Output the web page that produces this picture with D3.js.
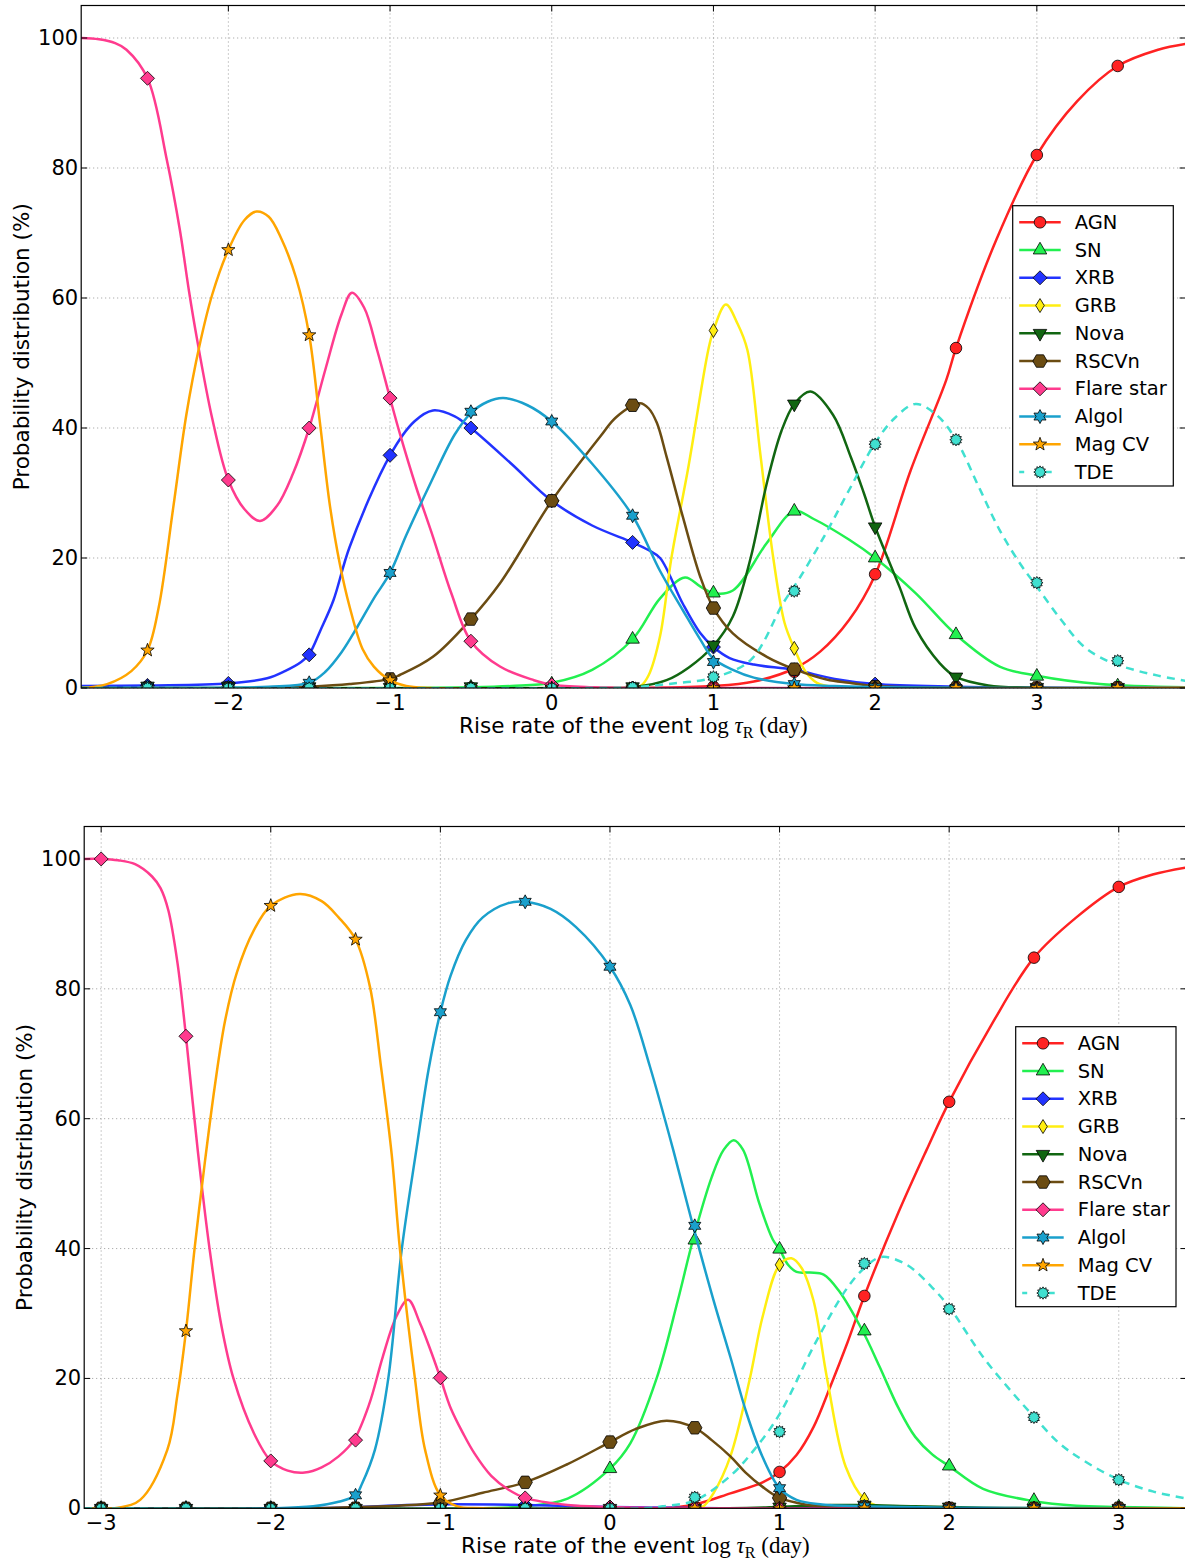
<!DOCTYPE html>
<html>
<head>
<meta charset="utf-8">
<script src="https://cdn.jsdelivr.net/npm/d3@7"></script>
<style>
  body { margin: 0; background: #fff; }
  svg { display: block; }
  text { font-family: "DejaVu Sans", sans-serif; fill: #000; }
</style>
</head>
<body>
<svg id="chart" width="1185" height="1562"></svg>
<script>
// ---- shared categories / ticks ----
const classNames = ["AGN", "SN", "XRB", "GRB", "Nova", "RSCVn", "Flare star", "Algol", "Mag CV", "TDE"];
const classColors = ["#ff2222", "#22f050", "#2233ff", "#ffee11", "#116611", "#6b4c12", "#ff3b8e", "#1aa0cc", "#ffa500", "#40e0d0"];
const classMarkers = ["circle", "triUp", "diamond", "thinDiamond", "triDown", "hexagon", "diamond", "star6", "star5", "sun"];

const yTicks = [0, 20, 40, 60, 80, 100];
const xTicksTop = [-2, -1, 0, 1, 2, 3];
const xTicksBot = [-3, -2, -1, 0, 1, 2, 3];
const topMarkX = [-2.5, -2, -1.5, -1, -0.5, 0, 0.5, 1, 1.5, 2, 2.5, 3, 3.5];
const botMarkX = [-3, -2.5, -2, -1.5, -1, -0.5, 0, 0.5, 1, 1.5, 2, 2.5, 3];

// ---- top panel: curves [logtau, %] ----
const agnTop = [[-2.91,0],[0.5,0],[1.0,0.3],[1.25,1],[1.5,3],[1.66,5.6],[1.84,10.5],[2,17.4],[2.22,33.5],[2.44,47.4],[2.5,52.3],[2.75,69],[3,82],[3.25,90.3],[3.5,95.7],[3.75,98.2],[3.92,99.1]];
const snTop = [[-2.91,0],[-1,0],[-0.5,0.1],[-0.25,0.3],[0,0.8],[0.25,2.8],[0.5,7.5],[0.67,13.8],[0.824,17],[0.92,15.6],[1.0,14.6],[1.12,15],[1.33,22.3],[1.5,27.2],[1.62,26],[1.84,22.8],[2,20],[2.25,14.6],[2.5,8.2],[2.77,3.3],[3,1.9],[3.39,0.6],[3.92,0.1]];
const xrbTop = [[-2.91,0.3],[-2.5,0.4],[-2,0.7],[-1.76,1.5],[-1.65,2.6],[-1.55,4.0],[-1.5,5.2],[-1.43,8.9],[-1.35,13.5],[-1.25,21.7],[-1.0,35.8],[-0.85,41],[-0.735,42.7],[-0.6,41.8],[-0.5,40],[-0.25,34.5],[0,28.8],[0.25,25],[0.5,22.4],[0.6,21.2],[0.67,20],[0.81,13],[0.917,8.5],[1.0,6.3],[1.1,4.6],[1.25,3.6],[1.5,2.8],[1.75,1.4],[2,0.6],[2.5,0.2],[3,0.05],[3.92,0]];
const grbTop = [[-2.91,0],[0.5,0],[0.55,0.3],[0.6,2],[0.67,8],[0.74,20],[0.845,34],[0.968,52],[1.0,55],[1.077,59],[1.15,56],[1.21,52],[1.29,36],[1.37,20],[1.44,10],[1.5,6.1],[1.57,2.5],[1.64,0.8],[1.75,0.1],[1.85,0],[3.92,0]];
const novaTop = [[-2.91,0],[0.4,0],[0.5,0.1],[0.71,1.2],[0.85,3.2],[1.0,6.5],[1.12,11],[1.23,20],[1.33,31.5],[1.42,39.5],[1.5,43.7],[1.6,45.6],[1.74,42],[1.85,35.5],[1.93,30],[2.0,24.8],[2.15,15.6],[2.25,9.2],[2.4,3.8],[2.5,1.7],[2.7,0.4],[3,0.05],[3.92,0]];
const rscTop = [[-2.91,0],[-1.75,0],[-1.5,0.2],[-1.25,0.6],[-1.0,1.4],[-0.94,2],[-0.735,4.8],[-0.5,10.6],[-0.32,16.1],[0,28.8],[0.3,38.7],[0.4,41.7],[0.546,43.8],[0.6,43],[0.65,40.8],[0.71,35.6],[0.81,26.4],[0.92,17],[1.0,12.3],[1.12,8.4],[1.33,4.8],[1.5,2.9],[1.7,1.3],[1.84,0.8],[2,0.3],[2.5,0.05],[3.92,0]];
const flareTop = [[-2.91,100],[-2.8,99.8],[-2.7,99.2],[-2.63,98.2],[-2.5,93.8],[-2.38,81.2],[-2.3,70.5],[-2.243,61],[-2.196,54],[-2.1,41.5],[-2.0,32],[-1.9,27.5],[-1.804,25.7],[-1.7,28],[-1.6,33],[-1.5,40],[-1.4,49],[-1.3,57.5],[-1.236,60.8],[-1.16,58.5],[-1.08,52],[-1.0,44.6],[-0.94,39.2],[-0.84,31],[-0.735,23.3],[-0.62,14.5],[-0.5,7.2],[-0.32,3.3],[-0.11,1.2],[0,0.5],[0.25,0.1],[0.5,0],[3.92,0]];
const algolTop = [[-2.91,0],[-2,0.05],[-1.75,0.2],[-1.5,0.8],[-1.4,2.5],[-1.3,5.5],[-1.2,9.5],[-1.1,13.8],[-1.0,17.7],[-0.9,23.5],[-0.75,31.5],[-0.6,39],[-0.5,42.3],[-0.4,44],[-0.3,44.6],[-0.15,43.5],[0,41],[0.25,34.5],[0.5,26.5],[0.67,18],[0.81,12],[0.92,7.4],[1.0,4.5],[1.12,2.8],[1.25,1.6],[1.5,0.6],[1.75,0.3],[2,0.1],[3.92,0]];
const magTop = [[-2.91,0],[-2.75,0.6],[-2.6,2.6],[-2.5,5.8],[-2.43,12.5],[-2.34,27.9],[-2.26,42],[-2.18,52.5],[-2.1,60.5],[-2.0,67.4],[-1.9,72],[-1.826,73.3],[-1.75,72.5],[-1.67,69],[-1.58,63],[-1.5,54.3],[-1.433,40.7],[-1.371,27.9],[-1.31,19],[-1.25,12.5],[-1.17,6],[-1.1,3.3],[-1.0,1.2],[-0.9,0.3],[-0.75,0],[3.92,0]];
const tdeTop = [[-2.91,0],[0.3,0],[0.5,0.1],[0.75,0.7],[1.0,1.6],[1.23,4.3],[1.43,13],[1.535,17],[1.7,24],[1.84,30.5],[2.0,37.7],[2.12,41.5],[2.25,43.7],[2.38,42],[2.5,38.2],[2.64,31],[2.77,24.3],[2.9,19],[3.0,15.6],[3.15,10.5],[3.29,6.4],[3.45,4],[3.6,2.8],[3.75,1.9],[3.92,1.1]];

// ---- top panel: marker values at topMarkX ----
const agnTopMarks   = [0, 0, 0, 0, 0, 0, 0, 0.2, 2.5, 17.5, 52.3, 82, 95.7];
const snTopMarks    = [0, 0, 0, 0, 0.1, 0.6, 7.5, 14.6, 27.2, 20, 8.2, 1.8, 0.3];
const xrbTopMarks   = [0.4, 0.7, 5.1, 35.8, 40, 28.8, 22.4, 6.3, 2.8, 0.6, 0.2, 0, 0];
const grbTopMarks   = [0, 0, 0, 0, 0, 0, 0, 55, 6.1, 0, 0, 0, 0];
const novaTopMarks  = [0.3, 0.3, 0.2, 0.1, 0.2, 0, 0.2, 6.6, 43.7, 24.8, 1.7, 0.1, 0.1];
const rscTopMarks   = [0, 0, 0.1, 1.4, 10.6, 28.8, 43.5, 12.3, 2.9, 0.2, 0, 0, 0];
const flareTopMarks = [93.8, 32, 40, 44.6, 7.2, 0.5, 0, 0, 0, 0, 0, 0, 0];
const algolTopMarks = [0.2, 0.1, 0.8, 17.7, 42.5, 41, 26.5, 4.0, 0.6, 0.1, 0, 0, 0];
const magTopMarks   = [5.8, 67.4, 54.3, 1.2, 0, 0, 0, 0, 0, 0, 0, 0, 0];
const tdeTopMarks   = [0, 0, 0, 0, 0, 0, 0.1, 1.7, 14.9, 37.5, 38.2, 16.2, 4.2];

// ---- bottom panel: curves ----
const agnBot = [[-3.1,0],[0.3,0],[0.5,0.6],[0.71,2.3],[0.9,4],[1.0,5.6],[1.1,8.2],[1.2,12.5],[1.3,18.8],[1.4,25.5],[1.5,32.7],[1.7,45.5],[1.867,55.2],[2.0,62.6],[2.25,74.5],[2.5,84.8],[2.75,91],[3.0,95.7],[3.2,97.6],[3.4,98.7]];
const snBot = [[-3.1,0],[-0.75,0],[-0.5,0.3],[-0.25,1.5],[0,6.1],[0.12,10],[0.275,20],[0.4,32],[0.49,41.4],[0.6,51],[0.67,55.2],[0.73,56.7],[0.785,55.2],[0.88,47],[0.96,41.4],[1.0,39.9],[1.05,37.5],[1.1,36.4],[1.18,36.3],[1.26,36],[1.35,33.5],[1.49,27.3],[1.59,21.8],[1.7,15.5],[1.8,11],[1.9,8.3],[2,6.5],[2.2,3.0],[2.5,1.1],[2.75,0.4],[3,0.2],[3.4,0]];
const xrbBot = [[-3.1,0],[-2,0],[-1.6,0.1],[-1.2,0.5],[-1.0,0.6],[-0.5,0.5],[0,0.2],[0.5,0.05],[1,0],[3.4,0]];
const grbBot = [[-3.1,0],[0.5,0],[0.55,0.3],[0.61,2.3],[0.71,8],[0.825,20],[0.9,29.5],[1.0,37.5],[1.07,38.5],[1.13,37],[1.2,32],[1.28,20],[1.39,6.4],[1.5,1.4],[1.6,0.2],[1.7,0],[3.4,0]];
const novaBot = [[-3.1,0],[0.7,0],[1.0,0.2],[1.3,0.5],[1.5,0.5],[1.8,0.3],[2.2,0.1],[2.6,0],[3.4,0]];
const rscBot = [[-3.1,0],[-1.75,0],[-1.5,0.2],[-1.25,0.4],[-1.0,0.9],[-0.75,2.4],[-0.5,4.0],[-0.25,6.8],[0,10.2],[0.15,12.2],[0.334,13.5],[0.5,12.4],[0.6,10.5],[0.71,8],[0.8,5.5],[0.9,3.3],[1.0,1.6],[1.15,0.6],[1.3,0.2],[1.5,0.05],[3.4,0]];
const flareBot = [[-3.1,100],[-3.0,100],[-2.9,99.8],[-2.8,99.2],[-2.7,97.3],[-2.65,95.5],[-2.604,92.1],[-2.55,84],[-2.5,72.7],[-2.43,55],[-2.36,39.8],[-2.29,28],[-2.22,20],[-2.1,11.6],[-2.0,7.3],[-1.9,5.8],[-1.8,5.5],[-1.7,6.3],[-1.6,8],[-1.51,10.5],[-1.42,16],[-1.34,23.3],[-1.26,29.5],[-1.19,32.1],[-1.12,28.5],[-1.06,24.5],[-1.0,20.1],[-0.94,15.5],[-0.865,11.5],[-0.8,8.5],[-0.7,5],[-0.6,2.9],[-0.5,1.6],[-0.25,0.5],[0,0.2],[0.5,0],[3.4,0]];
const algolBot = [[-3.1,0],[-2,0],[-1.75,0.3],[-1.6,1],[-1.5,2.0],[-1.46,3.9],[-1.386,9],[-1.307,20],[-1.228,39.8],[-1.14,55.5],[-1.07,67.5],[-1.0,76.4],[-0.94,82],[-0.85,87.5],[-0.75,91],[-0.6,93.2],[-0.5,93.4],[-0.35,92.3],[-0.2,89.5],[0,83.4],[0.12,77.5],[0.236,68],[0.373,55.2],[0.49,43.5],[0.61,32.1],[0.71,23.3],[0.806,14.6],[0.9,7.9],[1.0,3.1],[1.1,1.3],[1.25,0.6],[1.5,0.3],[2,0.1],[3.4,0]];
const magBot = [[-3.1,0],[-2.9,0.1],[-2.77,1.3],[-2.61,9],[-2.55,17.5],[-2.5,27.3],[-2.45,39.8],[-2.39,53],[-2.33,65],[-2.27,75],[-2.2,82.5],[-2.1,89],[-2.0,92.8],[-1.83,94.6],[-1.7,93.5],[-1.6,91],[-1.5,87.6],[-1.415,80.3],[-1.35,68],[-1.287,54.5],[-1.238,39.8],[-1.15,20],[-1.09,9],[-1.0,2.0],[-0.9,0.3],[-0.75,0],[3.4,0]];
const tdeBot = [[-3.1,0],[0.2,0],[0.31,0.3],[0.5,1.2],[0.71,5],[0.85,9],[1.0,14.5],[1.2,24.9],[1.39,33.6],[1.5,37],[1.6,38.7],[1.75,37.5],[1.9,34],[2.0,31],[2.2,23.3],[2.35,18.5],[2.5,14.1],[2.65,10],[2.79,7.4],[3.0,4.4],[3.2,2.6],[3.4,1.5]];

// ---- bottom panel: marker values at botMarkX ----
const agnBotMarks   = [0, 0, 0, 0, 0, 0, 0, 0.3, 5.6, 32.7, 62.6, 84.8, 95.7];
const snBotMarks    = [0, 0, 0, 0, 0, 0.3, 6.1, 41.3, 39.9, 27.3, 6.5, 1.2, 0.2];
const xrbBotMarks   = [0, 0, 0, 0, 0.6, 0.5, 0.2, 0, 0, 0, 0, 0, 0];
const grbBotMarks   = [0, 0, 0, 0, 0, 0, 0, 0, 37.5, 1.4, 0, 0, 0];
const novaBotMarks  = [0, 0, 0, 0, 0, 0, 0, 0, 0.2, 0.5, 0.2, 0, 0];
const rscBotMarks   = [0, 0, 0, 0, 0.8, 4.0, 10.2, 12.4, 1.6, 0.2, 0, 0, 0];
const flareBotMarks = [100, 72.7, 7.3, 10.5, 20.1, 1.6, 0.2, 0, 0, 0, 0, 0, 0];
const algolBotMarks = [0, 0, 0, 2.0, 76.4, 93.4, 83.4, 43.5, 3.1, 0.3, 0, 0, 0];
const magBotMarks   = [0, 27.3, 92.8, 87.6, 2.0, 0, 0, 0, 0, 0, 0, 0, 0];
const tdeBotMarks   = [0, 0, 0, 0, 0, 0, 0, 1.7, 11.8, 37.7, 30.7, 14.0, 4.4];

// ---- marker shapes ----
function poly(n, r, a0) {
    const p = [];
    for (let i = 0; i < n; i++) {
        const a = a0 + i * 2 * Math.PI / n;
        p.push([r * Math.cos(a), r * Math.sin(a)]);
    }
    return 'M' + p.map(d => d.join(',')).join('L') + 'Z';
}
function star(n, ro, ri, a0) {
    const p = [];
    for (let i = 0; i < 2 * n; i++) {
        const a = a0 + i * Math.PI / n;
        const r = (i % 2 === 0) ? ro : ri;
        p.push([r * Math.cos(a), r * Math.sin(a)]);
    }
    return 'M' + p.map(d => d.join(',')).join('L') + 'Z';
}
const markerPath = {
    circle: 'M5.8,0A5.8,5.8 0 1,1 -5.8,0A5.8,5.8 0 1,1 5.8,0Z',
    triUp: poly(3, 7.8, -Math.PI / 2),
    triDown: poly(3, 7.8, Math.PI / 2),
    diamond: poly(4, 7, -Math.PI / 2),
    thinDiamond: 'M0,-7L4.3,0L0,7L-4.3,0Z',
    hexagon: poly(6, 7.2, 0),
    star6: star(6, 7, 3.9, -Math.PI / 2),
    star5: star(5, 7, 2.9, -Math.PI / 2),
    sun: star(12, 6.2, 4.4, -Math.PI / 2)
};

const panels = [
    {
        curves: [agnTop, snTop, xrbTop, grbTop, novaTop, rscTop, flareTop, algolTop, magTop, tdeTop],
        marks: [agnTopMarks, snTopMarks, xrbTopMarks, grbTopMarks, novaTopMarks, rscTopMarks, flareTopMarks, algolTopMarks, magTopMarks, tdeTopMarks],
        markX: topMarkX, xTicks: xTicksTop,
        xDomain: [-2.91, 3.92], left: 81.2, right: 1185.6, top: 5.5, bottom: 688,
        legend: {x: 1012.7, y: 205.7, w: 160.6, h: 280.3}
    },
    {
        curves: [agnBot, snBot, xrbBot, grbBot, novaBot, rscBot, flareBot, algolBot, magBot, tdeBot],
        marks: [agnBotMarks, snBotMarks, xrbBotMarks, grbBotMarks, novaBotMarks, rscBotMarks, flareBotMarks, algolBotMarks, magBotMarks, tdeBotMarks],
        markX: botMarkX, xTicks: xTicksBot,
        xDomain: [-3.1, 3.4], left: 84.2, right: 1186.6, top: 826.5, bottom: 1508.3,
        legend: {x: 1015.7, y: 1026.7, w: 160.3, h: 280}
    }
];

const svg = d3.select('#chart');
const fmt = d => d < 0 ? '\u2212' + Math.abs(d) : String(d);

panels.forEach((p, pi) => {
    const x = d3.scaleLinear().domain(p.xDomain).range([p.left, p.right]);
    const y = d3.scaleLinear().domain([0, 105]).range([p.bottom, p.top]);
    const g = svg.append('g');

    const clipId = `clip${pi}`;
    svg.append('clipPath').attr('id', clipId)
        .append('rect')
        .attr('x', p.left).attr('y', p.top)
        .attr('width', p.right - p.left).attr('height', p.bottom - p.top);

    // grid
    g.append('g').selectAll('line').data(p.xTicks).join('line')
        .attr('x1', d => x(d)).attr('x2', d => x(d))
        .attr('y1', p.top).attr('y2', p.bottom)
        .style('stroke', '#9a9a9a').style('stroke-width', 1).style('stroke-dasharray', '1,3');
    g.append('g').selectAll('line').data(yTicks).join('line')
        .attr('x1', p.left).attr('x2', p.right)
        .attr('y1', d => y(d)).attr('y2', d => y(d))
        .style('stroke', '#9a9a9a').style('stroke-width', 1).style('stroke-dasharray', '1,3');

    // series
    const line = d3.line().x(d => x(d[0])).y(d => y(d[1])).curve(d3.curveCatmullRom.alpha(0.5));
    const plot = g.append('g').attr('clip-path', `url(#${clipId})`);
    classNames.forEach((name, i) => {
        plot.append('path')
            .datum(p.curves[i])
            .attr('d', line)
            .style('fill', 'none')
            .style('stroke', classColors[i])
            .style('stroke-width', 2.5)
            .style('stroke-dasharray', name === 'TDE' ? '8,6' : null);
        plot.append('g').selectAll('path')
            .data(p.marks[i].map((v, k) => [p.markX[k], v]))
            .join('path')
            .attr('d', markerPath[classMarkers[i]])
            .attr('transform', d => `translate(${x(d[0])},${y(d[1])})`)
            .style('fill', classColors[i])
            .style('stroke', '#000')
            .style('stroke-width', 0.8);
    });

    // ticks (inward, all four sides)
    const tk = g.append('g').style('stroke', '#000').style('stroke-width', 1);
    p.xTicks.forEach(t => {
        tk.append('line').attr('x1', x(t)).attr('x2', x(t)).attr('y1', p.bottom).attr('y2', p.bottom - 6);
        tk.append('line').attr('x1', x(t)).attr('x2', x(t)).attr('y1', p.top).attr('y2', p.top + 6);
    });
    yTicks.forEach(t => {
        tk.append('line').attr('x1', p.left).attr('x2', p.left + 6).attr('y1', y(t)).attr('y2', y(t));
        tk.append('line').attr('x1', p.right).attr('x2', p.right - 6).attr('y1', y(t)).attr('y2', y(t));
    });

    // frame
    g.append('rect')
        .attr('x', p.left).attr('y', p.top)
        .attr('width', p.right - p.left).attr('height', p.bottom - p.top)
        .style('fill', 'none').style('stroke', '#000').style('stroke-width', 1.2);

    // tick labels
    g.append('g').selectAll('text').data(p.xTicks).join('text')
        .attr('x', d => x(d)).attr('y', p.bottom + 15)
        .attr('text-anchor', 'middle').attr('dominant-baseline', 'central')
        .style('font-size', '21px')
        .text(fmt);
    g.append('g').selectAll('text').data(yTicks).join('text')
        .attr('x', p.left - 3).attr('y', d => y(d))
        .attr('text-anchor', 'end').attr('dominant-baseline', 'central')
        .style('font-size', '21px')
        .text(fmt);

    // axis labels
    const cx = (p.left + p.right) / 2;
    const xl = g.append('text')
        .attr('x', cx).attr('y', p.bottom + 45)
        .attr('text-anchor', 'middle')
        .style('font-size', '21.5px');
    xl.append('tspan').text('Rise rate of the event ');
    xl.append('tspan').style('font-family', '"Liberation Serif", serif').style('font-size', '23px').text('log ');
    xl.append('tspan').style('font-family', '"Liberation Serif", serif').style('font-style', 'italic').style('font-size', '23px').text('\u03c4');
    xl.append('tspan').style('font-family', '"Liberation Serif", serif').style('font-size', '16px').attr('dy', 5).text('R');
    xl.append('tspan').style('font-family', '"Liberation Serif", serif').style('font-size', '23px').attr('dy', -5).text(' (day)');

    g.append('text')
        .attr('transform', `translate(${p.left - 60},${(p.top + p.bottom) / 2}) rotate(-90)`)
        .attr('text-anchor', 'middle').attr('dominant-baseline', 'central')
        .style('font-size', '21.5px')
        .text('Probability distribution (%)');

    // legend
    const L = p.legend;
    const lg = g.append('g');
    lg.append('rect')
        .attr('x', L.x).attr('y', L.y).attr('width', L.w).attr('height', L.h)
        .style('fill', '#fff').style('stroke', '#000').style('stroke-width', 1.2);
    const rowH = 27.75;
    classNames.forEach((name, i) => {
        const ry = L.y + 16.6 + i * rowH;
        lg.append('line')
            .attr('x1', L.x + 6.5).attr('x2', L.x + 48)
            .attr('y1', ry).attr('y2', ry)
            .style('stroke', classColors[i]).style('stroke-width', 2.5)
            .style('stroke-dasharray', name === 'TDE' ? '6,21.5' : null)
            .style('stroke-dashoffset', name === 'TDE' ? 1 : null);
        lg.append('path')
            .attr('d', markerPath[classMarkers[i]])
            .attr('transform', `translate(${L.x + 27.3},${ry})`)
            .style('fill', classColors[i]).style('stroke', '#000').style('stroke-width', 0.8);
        lg.append('text')
            .attr('x', L.x + 62).attr('y', ry)
            .attr('dominant-baseline', 'central')
            .style('font-size', '19.5px')
            .text(name);
    });
});
</script>
</body>
</html>
